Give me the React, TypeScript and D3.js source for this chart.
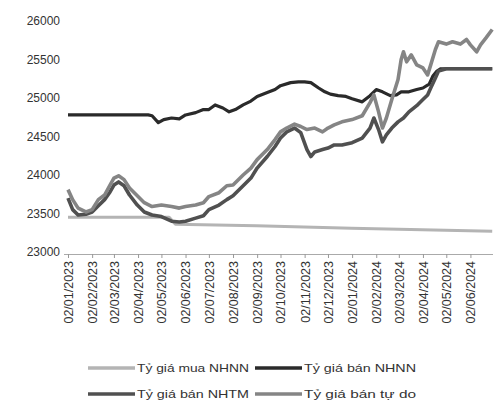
import React, { useRef, useEffect } from 'react'
import * as d3 from 'd3'

// Tỷ giá mua NHNN
const buyNHNN: [string, number][] = [
    ['2023-01-02', 23450], ['2023-05-12', 23450], ['2023-05-20', 23360], ['2023-09-01', 23340],
    ['2024-01-01', 23310], ['2024-04-01', 23290], ['2024-06-30', 23270],
]

// Tỷ giá bán NHNN
const sellNHNN: [string, number][] = [
    ['2023-01-02', 24780], ['2023-04-15', 24780], ['2023-04-20', 24770], ['2023-04-28', 24680],
    ['2023-05-05', 24720], ['2023-05-15', 24740], ['2023-05-25', 24730], ['2023-06-02', 24780],
    ['2023-06-15', 24810], ['2023-06-25', 24850], ['2023-07-02', 24850], ['2023-07-10', 24910],
    ['2023-07-20', 24870], ['2023-07-28', 24820], ['2023-08-05', 24850], ['2023-08-15', 24910],
    ['2023-08-25', 24960], ['2023-09-02', 25020], ['2023-09-15', 25070], ['2023-09-25', 25110],
    ['2023-10-02', 25160], ['2023-10-15', 25200], ['2023-10-25', 25210], ['2023-11-02', 25210],
    ['2023-11-10', 25200], ['2023-11-20', 25130], ['2023-11-28', 25080], ['2023-12-05', 25050],
    ['2023-12-15', 25030], ['2023-12-25', 25020], ['2024-01-02', 24990], ['2024-01-15', 24950],
    ['2024-01-25', 25030], ['2024-02-02', 25110], ['2024-02-10', 25080], ['2024-02-20', 25030],
    ['2024-02-28', 25040], ['2024-03-05', 25080], ['2024-03-15', 25080], ['2024-03-25', 25110],
    ['2024-04-02', 25130], ['2024-04-10', 25180], ['2024-04-15', 25290], ['2024-04-20', 25350],
    ['2024-04-25', 25380], ['2024-06-30', 25380],
]

// Tỷ giá bán NHTM
const sellNHTM: [string, number][] = [
    ['2023-01-02', 23700], ['2023-01-08', 23550], ['2023-01-15', 23480], ['2023-01-25', 23490],
    ['2023-02-02', 23520], ['2023-02-10', 23600], ['2023-02-18', 23680], ['2023-02-25', 23780],
    ['2023-03-02', 23870], ['2023-03-08', 23910], ['2023-03-15', 23860], ['2023-03-22', 23740],
    ['2023-04-01', 23610], ['2023-04-10', 23520], ['2023-04-20', 23480], ['2023-05-02', 23460],
    ['2023-05-15', 23400], ['2023-05-25', 23390], ['2023-06-02', 23400], ['2023-06-15', 23440],
    ['2023-06-25', 23470], ['2023-07-02', 23550], ['2023-07-15', 23610], ['2023-07-25', 23680],
    ['2023-08-02', 23730], ['2023-08-15', 23860], ['2023-08-25', 23960], ['2023-09-02', 24090],
    ['2023-09-15', 24240], ['2023-09-25', 24370], ['2023-10-02', 24480], ['2023-10-10', 24560],
    ['2023-10-20', 24610], ['2023-10-28', 24550], ['2023-11-05', 24330], ['2023-11-10', 24240],
    ['2023-11-15', 24300], ['2023-11-25', 24330], ['2023-12-02', 24350], ['2023-12-10', 24390],
    ['2023-12-20', 24390], ['2024-01-02', 24420], ['2024-01-15', 24480], ['2024-01-25', 24610],
    ['2024-01-30', 24740], ['2024-02-05', 24590], ['2024-02-10', 24430], ['2024-02-15', 24520],
    ['2024-02-22', 24610], ['2024-03-01', 24690], ['2024-03-08', 24740], ['2024-03-15', 24820],
    ['2024-03-25', 24900], ['2024-04-02', 24980], ['2024-04-08', 25040], ['2024-04-12', 25130],
    ['2024-04-18', 25260], ['2024-04-22', 25350], ['2024-05-02', 25380], ['2024-06-30', 25380],
]

// Tỷ giá bán tự do
const sellFree: [string, number][] = [
    ['2023-01-02', 23810], ['2023-01-08', 23680], ['2023-01-15', 23570], ['2023-01-25', 23520],
    ['2023-02-02', 23550], ['2023-02-10', 23680], ['2023-02-18', 23740], ['2023-02-25', 23870],
    ['2023-03-02', 23960], ['2023-03-08', 23990], ['2023-03-15', 23940], ['2023-03-22', 23830],
    ['2023-04-01', 23730], ['2023-04-10', 23640], ['2023-04-20', 23590], ['2023-05-02', 23610],
    ['2023-05-15', 23590], ['2023-05-25', 23570], ['2023-06-02', 23590], ['2023-06-15', 23610],
    ['2023-06-25', 23640], ['2023-07-02', 23720], ['2023-07-15', 23770], ['2023-07-25', 23860],
    ['2023-08-02', 23870], ['2023-08-15', 24000], ['2023-08-25', 24090], ['2023-09-02', 24200],
    ['2023-09-15', 24330], ['2023-09-25', 24460], ['2023-10-02', 24560], ['2023-10-10', 24610],
    ['2023-10-20', 24660], ['2023-10-28', 24630], ['2023-11-05', 24590], ['2023-11-15', 24610],
    ['2023-11-25', 24560], ['2023-12-02', 24610], ['2023-12-10', 24650], ['2023-12-20', 24690],
    ['2024-01-02', 24720], ['2024-01-15', 24770], ['2024-01-25', 24940], ['2024-01-30', 25040],
    ['2024-02-05', 24820], ['2024-02-10', 24610], ['2024-02-15', 24740], ['2024-02-22', 24980],
    ['2024-03-01', 25240], ['2024-03-05', 25500], ['2024-03-08', 25600], ['2024-03-12', 25470],
    ['2024-03-18', 25560], ['2024-03-25', 25430], ['2024-04-02', 25390], ['2024-04-08', 25300],
    ['2024-04-12', 25430], ['2024-04-18', 25630], ['2024-04-22', 25730], ['2024-05-02', 25700],
    ['2024-05-10', 25730], ['2024-05-20', 25700], ['2024-05-28', 25760], ['2024-06-02', 25690],
    ['2024-06-10', 25600], ['2024-06-15', 25690], ['2024-06-22', 25780], ['2024-06-30', 25890],
]

const yTicks = [23000, 23500, 24000, 24500, 25000, 25500, 26000]
const xTicks = [
    '2023-01-02', '2023-02-02', '2023-03-02', '2023-04-02', '2023-05-02', '2023-06-02',
    '2023-07-02', '2023-08-02', '2023-09-02', '2023-10-02', '2023-11-02', '2023-12-02',
    '2024-01-02', '2024-02-02', '2024-03-02', '2024-04-02', '2024-05-02', '2024-06-02',
]

const series = [
    { name: 'Tỷ giá mua NHNN', data: buyNHNN, color: '#b4b4b4', width: 3 },
    { name: 'Tỷ giá bán NHNN', data: sellNHNN, color: '#2a2a2a', width: 3.2 },
    { name: 'Tỷ giá bán NHTM', data: sellNHTM, color: '#505050', width: 3.6 },
    { name: 'Tỷ giá bán tự do', data: sellFree, color: '#858585', width: 3.6 },
]

export default function App() {
    const ref = useRef<SVGSVGElement>(null)
    const width = 495
    const height = 412

    useEffect(() => {
        const svg = d3.select(ref.current)
        svg.selectAll('*').remove()
        const font = '"Liberation Sans", Arial, sans-serif'
        const parse = d3.timeParse('%Y-%m-%d')

        const x = d3.scaleTime()
            .domain([parse('2023-01-02')!, parse('2024-07-01')!])
            .range([68, 493])
        const y = d3.scaleLinear().domain([23000, 26000]).range([252, 21])

        // y labels
        svg.append('g').selectAll('text').data(yTicks).enter().append('text')
            .attr('x', 60).attr('y', d => y(d) + 4)
            .attr('text-anchor', 'end')
            .attr('font-family', font).attr('font-size', 12)
            .attr('fill', '#333')
            .text(d => d)

        // x axis
        const xAxis = d3.axisBottom(x)
            .tickValues(xTicks.map(d => parse(d)!))
            .tickFormat(d => d3.timeFormat('%d/%m/%Y')(d as Date))
            .tickSize(4)
            .tickSizeOuter(0)
        const xAxisG = svg.append('g')
            .attr('transform', 'translate(0,254)')
            .call(xAxis)
        xAxisG.select('.domain').attr('stroke', '#aaa').attr('d', 'M64,0.5H493')
        xAxisG.selectAll('.tick line').attr('stroke', '#999')
        xAxisG.selectAll('.tick text')
            .attr('font-family', font).attr('font-size', 12.5)
            .attr('fill', '#333')
            .attr('text-anchor', 'end')
            .attr('transform', 'rotate(-90)')
            .attr('x', -7).attr('y', 0).attr('dy', '0.35em')

        const line = d3.line<[string, number]>()
            .x(d => x(parse(d[0])!))
            .y(d => y(d[1]))

        series.forEach(s => {
            svg.append('path')
                .datum(s.data)
                .attr('fill', 'none')
                .attr('stroke', s.color)
                .attr('stroke-width', s.width)
                .attr('stroke-linejoin', 'round')
                .attr('d', line)
        })

        // legend
        const legendPos = [[88, 368], [255, 368], [88, 394], [255, 394]]
        series.forEach((s, i) => {
            const [lx, ly] = legendPos[i]
            svg.append('line')
                .attr('x1', lx).attr('x2', lx + 47)
                .attr('y1', ly).attr('y2', ly)
                .attr('stroke', s.color).attr('stroke-width', 3.5)
            svg.append('text')
                .attr('x', lx + 49).attr('y', ly + 4)
                .attr('font-family', font).attr('font-size', 11.5)
                .attr('fill', '#333')
                .attr('textLength', 112).attr('lengthAdjust', 'spacingAndGlyphs')
                .text(s.name)
        })
    }, [])

    return (
        <div>
            <svg ref={ref} width={width} height={height}
                style={{ position: 'absolute', left: 0, top: 0, background: '#fff' }} />
        </div>
    )
}
